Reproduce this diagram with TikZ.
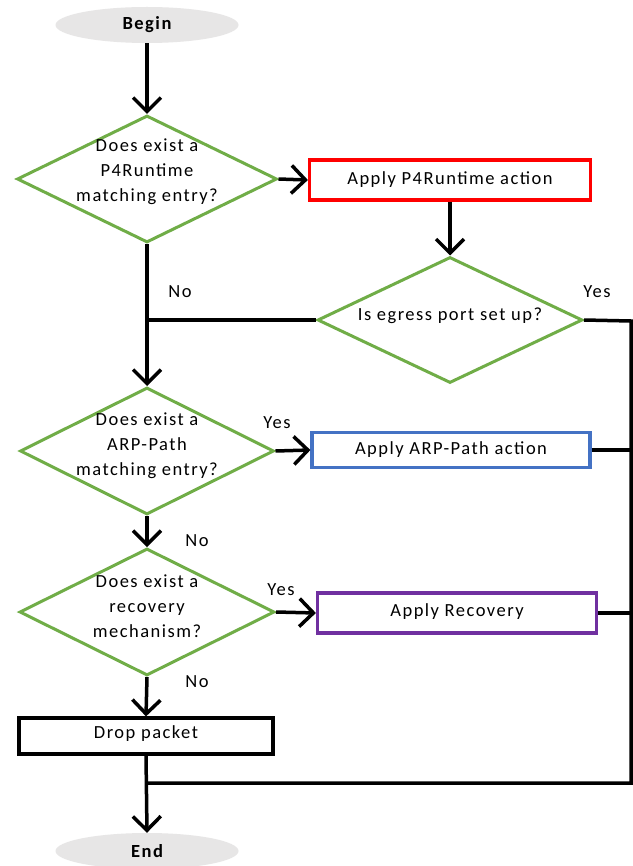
\documentclass[tikz,border=0pt]{standalone}
\usepackage{fontspec}
\setmainfont{Carlito}[LetterSpace=8]
\usetikzlibrary{shapes.geometric,arrows.meta}
\definecolor{dgreen}{HTML}{70AD47}
\definecolor{dblue}{HTML}{4472C4}
\definecolor{dpurple}{HTML}{7030A0}
\definecolor{dgray}{HTML}{E7E6E6}
\tikzset{
  dia/.style={diamond, draw=dgreen, line width=3pt, inner sep=0pt, fill=white},
  term/.style={ellipse, fill=dgray, draw=none, minimum width=183pt, minimum height=36pt, inner sep=0pt, font=\fontsize{18.5}{25}\selectfont\bfseries},
  box/.style={rectangle, line width=3.2pt, inner sep=0pt, fill=white},
  txt/.style={align=center, inner sep=0pt},
  arr/.style={line width=3.5pt, -{Straight Barb[length=14pt,width=28pt]}},
  ln/.style={line width=3.5pt},
  lbl/.style={inner sep=0pt}
}
\begin{document}
\begin{tikzpicture}[x=1pt,y=-1pt,font=\fontsize{18.5}{25}\selectfont]
\useasboundingbox (0,0) rectangle (632,866);
\fill[white] (0,0) rectangle (632,866);
\node[term] (begin) at (147,25) {Begin};
\node[dia, minimum width=260pt, minimum height=127pt] (d1) at (147,179) {};
\node[txt] (d1t) at (147,172) {Does exist a\\P4Runtime\\matching entry?};
\node[box, draw=red, minimum width=281pt, minimum height=40pt] (b1) at (450,180) {};
\node[txt] (b1t) at (450,180) {Apply P4Runtime action};
\node[dia, minimum width=265pt, minimum height=126pt] (d2) at (450,320) {};
\node[txt] (d2t) at (450,316) {Is egress port set up?};
\node[dia, minimum width=254pt, minimum height=127pt] (d3) at (147,451) {};
\node[txt] (d3t) at (147,446) {Does exist a\\ARP-Path\\matching entry?};
\node[box, draw=dblue, minimum width=278pt, minimum height=35pt] (b2) at (451,450) {};
\node[txt] (b2t) at (451,450) {Apply ARP-Path action};
\node[dia, minimum width=255pt, minimum height=127pt] (d4) at (147,612) {};
\node[txt] (d4t) at (147,606) {Does exist a\\recovery\\mechanism?};
\node[box, draw=dpurple, minimum width=279pt, minimum height=40pt] (b3) at (457,613) {};
\node[txt] (b3t) at (457,612) {Apply Recovery};
\node[box, draw=black, minimum width=254pt, minimum height=36pt] (drop) at (146,736) {};
\node[txt] (dropt) at (146,734) {Drop packet};
\node[term] (endn) at (147,851) {End};
\coordinate (bus1) at (631,321);
\coordinate (bus2) at (631,783);
\coordinate (join) at (147,783);
\coordinate (nojoin) at (147,320);
% connectors
\draw[arr] (begin.south) -- (d1.north);
\draw[arr] (d1.east) -- (b1.west);
\draw[arr] (b1.south) -- (d2.north);
\draw[arr] (d1.south) -- (d3.north);
\draw[ln] (d2.west) -- (nojoin);
\draw[ln] (d2.east) -- (bus1) -- (bus2) -- (join);
\draw[arr] (d3.east) -- (b2.west);
\draw[ln] (b2.east) -- (b2.east -| bus1);
\draw[arr] (d3.south) -- (d4.north);
\draw[arr] (d4.east) -- (b3.west);
\draw[ln] (b3.east) -- (b3.east -| bus1);
\draw[arr] (d4.south) -- (drop.north);
\draw[arr] (drop.south) -- (endn.north);
% labels
\node[lbl] (l1) at (180,292) {No};
\node[lbl] (l2) at (597,292) {Yes};
\node[lbl] (l3) at (277,423) {Yes};
\node[lbl] (l4) at (197,541) {No};
\node[lbl] (l5) at (281,590) {Yes};
\node[lbl] (l6) at (197,682) {No};
\end{tikzpicture}
\end{document}
